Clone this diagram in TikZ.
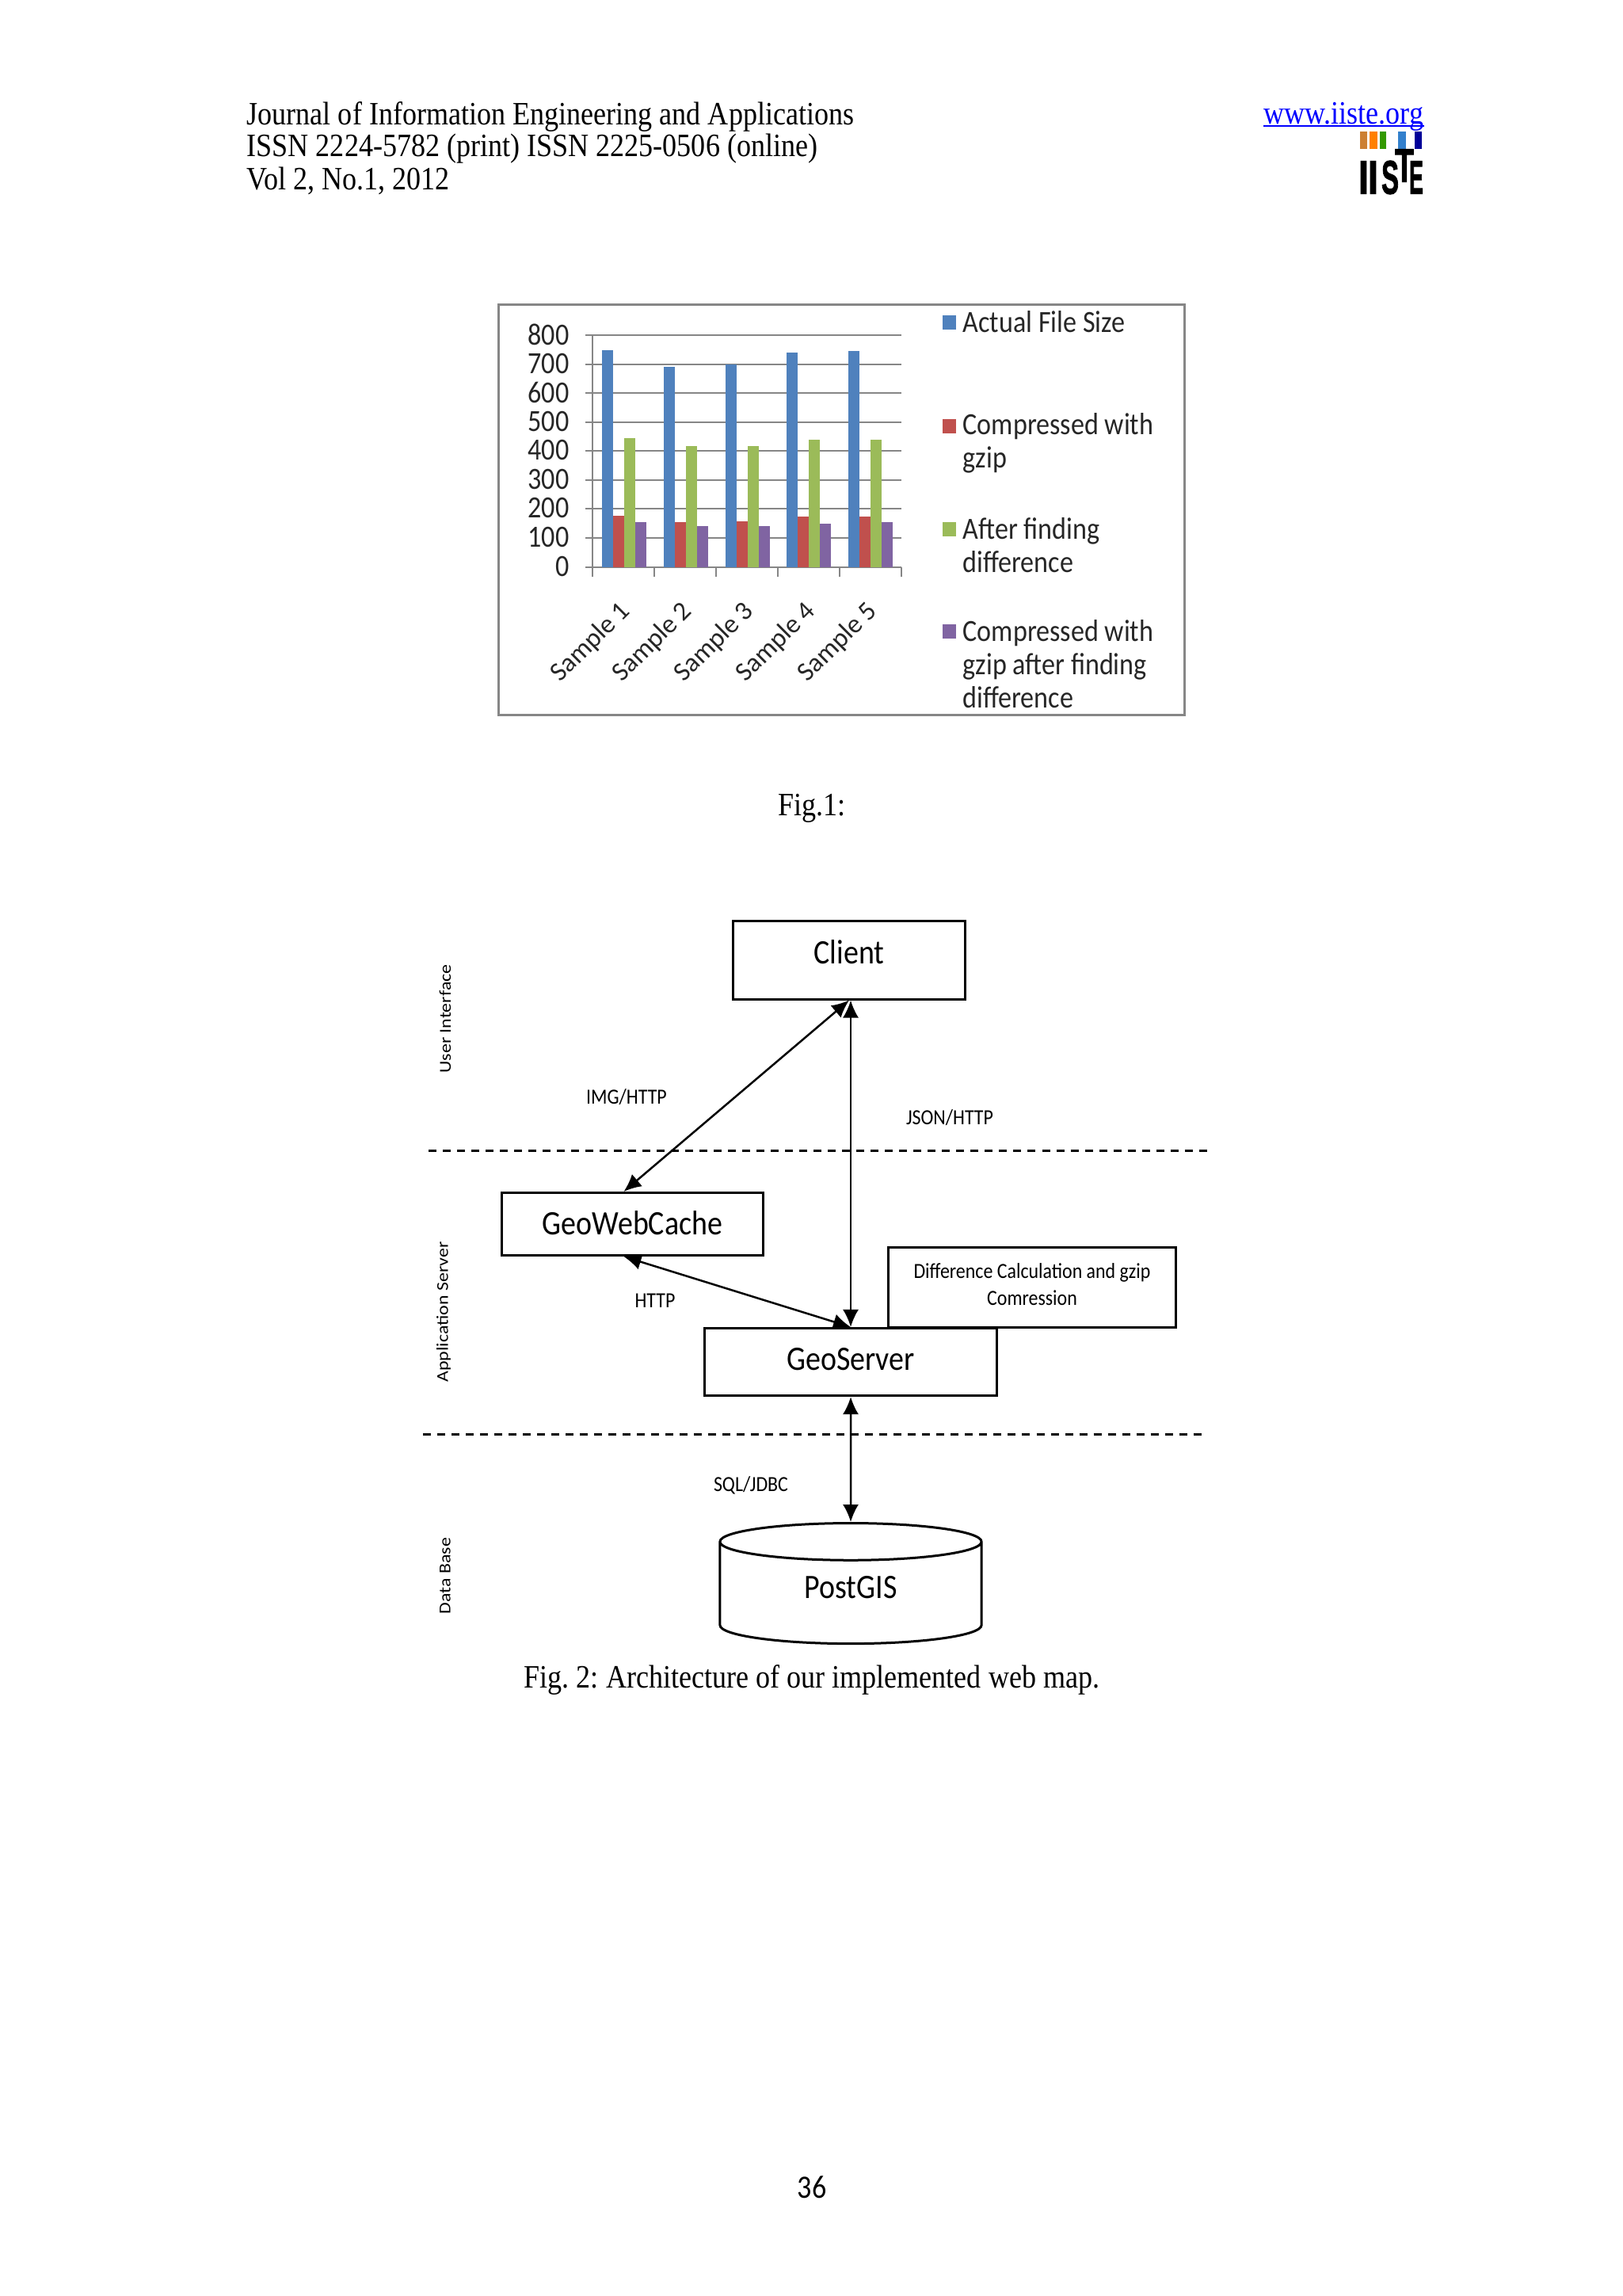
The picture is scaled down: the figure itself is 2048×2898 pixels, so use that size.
\documentclass[tikz,border=0pt]{standalone}
\usepackage{fontspec}
\setmainfont{Liberation Serif}[FakeStretch=0.877]
\newfontfamily\logofont{Liberation Sans}[BoldFeatures={FakeBold=2}]
\newfontfamily\carlito{Carlito}[FakeStretch=0.877]
\newfontfamily\carlitoplain{Carlito}
\newfontfamily\carlitoside{Carlito}[FakeStretch=1.14]
\usetikzlibrary{arrows.meta,shapes.geometric}
\definecolor{barblue}{HTML}{4F81BD}
\definecolor{barred}{HTML}{C0504D}
\definecolor{bargreen}{HTML}{9BBB59}
\definecolor{barpurple}{HTML}{8064A2}
\definecolor{gridgray}{HTML}{868686}

\begin{document}
\frenchspacing
\begin{tikzpicture}[
    x=0.01cm, y=-0.01cm,
    headtext/.style={inner sep=0pt, font=\fontsize{11.7}{13}\selectfont},
    charttext/.style={inner sep=0pt, text=black!85, font=\carlito\fontsize{11.06}{11.9}\selectfont},
    legendtext/.style={charttext, anchor=west, align=left},
    boxnode/.style={draw=black, line width=0.03cm, inner sep=0pt, font=\carlito\fontsize{12.3}{13}\selectfont},
    smalltext/.style={inner sep=0pt, font=\carlito\fontsize{7.75}{9.7}\selectfont},
    sidetext/.style={inner sep=0pt, rotate=90, font=\carlitoside\fontsize{5.96}{7}\selectfont},
    link/.style={draw=black, line width=0.025cm, {Latex[length=0.22cm,width=0.2cm]}-{Latex[length=0.22cm,width=0.2cm]}},
    divider/.style={draw=black, line width=0.03cm, dash pattern=on 0.10cm off 0.08cm},
    logoletter/.style={inner sep=0pt, font=\logofont\bfseries\fontsize{17}{17}\selectfont}
    ]
    \useasboundingbox (0,0) rectangle (2048,2898);

    % page header
    \node [headtext,anchor=west] (h1) at (311,147) {Journal of Information Engineering and Applications};
    \node [headtext,anchor=west] (h2) at (311,188) {ISSN 2224-5782 (print) ISSN 2225-0506 (online)};
    \node [headtext,anchor=west] (h3) at (311,228) {Vol 2, No.1, 2012};
    \node [headtext,anchor=east,text=blue] (web) at (1798,147) {www.iiste.org};
    \draw [blue,line width=0.02cm] (web.west |- 0,159) -- (web.east |- 0,159);

    % logo
    \fill [fill=brown!80!orange] (1717,166) rectangle (1726,188);
    \fill [orange] (1729,166) rectangle (1739,188);
    \fill [green!50!black!80!yellow] (1742,166) rectangle (1750,188);
    \fill [blue!50!cyan!60!gray] (1765,166) rectangle (1775,188);
    \fill [blue!60!black] (1786,166) rectangle (1795,188);
    \node [logoletter,xscale=.8] (l1) at (1721.5,224) {I};
    \node [logoletter,xscale=.8] (l2) at (1733.5,224) {I};
    \node [logoletter,xscale=.55] (l3) at (1755,224) {S};
    \node [logoletter,xscale=.65] (l4) at (1773,209) {T};
    \node [logoletter,xscale=.45] (l5) at (1788,224) {E};

    % chart
    \draw [gridgray,line width=0.03cm] (629,385) rectangle (1495,903);
    \foreach \v/\yy in {800/423.5,700/460,600/496.5,500/533,400/569.5,300/606,200/642.5,100/679,0/716} {
        \draw [gridgray,line width=0.02cm] (739,\yy) -- (1138,\yy);
        \node [charttext,anchor=east] (y\v) at (719,\yy-1) {\v};
    }
    \draw [gridgray,line width=0.02cm] (748,423.5) -- (748,728);
    \foreach \i/\a/\b/\c/\d in {0/752/178/447/156,1/693/156/420/142,2/700/160/420/142,3/743/174/440/152,4/748/174/440/156} {
        \pgfmathsetmacro{\xx}{760+77.8*\i}
        \fill [barblue] (\xx,716) rectangle (\xx+14,716-\a*0.365);
        \fill [barred] (\xx+14,716) rectangle (\xx+28,716-\b*0.365);
        \fill [bargreen] (\xx+28,716) rectangle (\xx+42,716-\c*0.365);
        \fill [barpurple] (\xx+42,716) rectangle (\xx+56,716-\d*0.365);
        \draw [gridgray,line width=0.02cm] (748+78*\i,716) -- (748+78*\i,728);
        \pgfmathtruncatemacro{\n}{\i+1}
        \node [inner sep=0pt,text=black!85,font=\carlitoplain\fontsize{9.6}{11.9}\selectfont,rotate=45] (s\n) at (746+78*\i,811) {Sample \n};
    }
    \draw [gridgray,line width=0.02cm] (1138,716) -- (1138,728);

    \fill [barblue] (1190,398) rectangle (1207,416);
    \fill [barred] (1190,529) rectangle (1207,547);
    \fill [bargreen] (1190,659) rectangle (1207,677);
    \fill [barpurple] (1190,788) rectangle (1207,806);
    \node [legendtext] (k1) at (1215,406) {Actual File Size};
    \node [legendtext] (k2) at (1215,559) {Compressed with\\gzip};
    \node [legendtext] (k3) at (1215,688) {After finding\\difference};
    \node [legendtext] (k4) at (1215,838) {Compressed with\\gzip after finding\\difference};

    \node [headtext] (fig1) at (1025,1020) {Fig.1:};

    % architecture
    \node [boxnode,minimum width=2.92cm,minimum height=0.98cm] (client) at (1072,1212) {\raisebox{0.22cm}{Client}};
    \node [boxnode,minimum width=3.29cm,minimum height=0.79cm] (gwc) at (798.5,1545) {\raisebox{0.04cm}{GeoWebCache}};
    \node [boxnode,minimum width=3.68cm,minimum height=0.85cm] (geoserver) at (1074,1719) {\raisebox{0.07cm}{GeoServer}};
    \node [boxnode,smalltext,align=center,minimum width=3.63cm,minimum height=1.00cm] (diff) at (1303,1625) {\raisebox{0.08cm}{Difference Calculation and gzip}\\\raisebox{0.08cm}{Comression}};
    \node [boxnode,cylinder,shape border rotate=90,aspect=0.4,minimum width=3.30cm,minimum height=1.52cm] (postgis) at (1074,2011) {\raisebox{0.15cm}{PostGIS}};

    \coordinate (dl1) at (541,1452);
    \coordinate (dr1) at (1528,1452);
    \coordinate (dl2) at (534,1810);
    \coordinate (dr2) at (1521,1810);
    \draw [divider] (dl1) -- (dr1);
    \draw [divider] (dl2) -- (dr2);

    \draw [link] (client.south) -- ([xshift=-0.11cm]gwc.north);
    \draw [link] (geoserver.north |- client.south) -- (geoserver.north);
    \draw [link] ([xshift=-0.11cm]gwc.south) -- (geoserver.north);
    \draw [link] (geoserver.south) -- (postgis.north);

    \node [smalltext] (img) at (791,1385) {IMG/HTTP};
    \node [smalltext] (json) at (1199,1411) {JSON/HTTP};
    \node [smalltext] (http) at (827,1642) {HTTP};
    \node [smalltext] (sql) at (948,1875) {SQL/JDBC};

    \node [sidetext] (ui) at (562,1286) {User Interface};
    \node [sidetext] (as) at (560,1656) {Application Server};
    \node [sidetext] (db) at (562,1989) {Data Base};

    \node [headtext] (fig2) at (1025,2120) {Fig. 2: Architecture of our implemented web map.};
    \node [inner sep=0pt,font=\carlito\fontsize{11.7}{13}\selectfont] (page) at (1025,2761) {36};
\end{tikzpicture}
\end{document}
